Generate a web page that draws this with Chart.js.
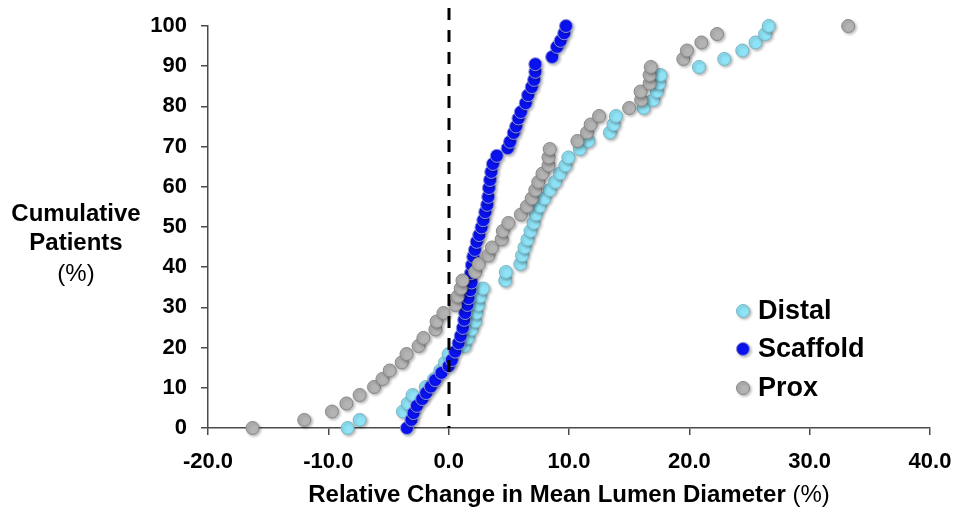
<!DOCTYPE html>
<html>
<head>
<meta charset="utf-8">
<script src="https://cdn.jsdelivr.net/npm/chart.js@4.4.1/dist/chart.umd.min.js"></script>
<style>
  html, body { margin: 0; padding: 0; background: #ffffff; }
  #wrap { width: 957px; height: 512px; }
</style>
</head>
<body>
<div id="wrap"><canvas id="chart" width="957" height="512"></canvas></div>
<script>
// Cumulative share of patients (%) for the Distal and Prox segments
const cumulativePct = [0, 2.0, 4.1, 6.1, 8.2, 10.2, 12.2, 14.3, 16.3, 18.4,
  20.4, 22.4, 24.5, 26.5, 28.6, 30.6, 32.7, 34.7, 36.7, 38.8,
  40.8, 42.9, 44.9, 46.9, 49.0, 51.0, 53.1, 55.1, 57.1, 59.2,
  61.2, 63.3, 65.3, 67.3, 69.4, 71.4, 73.5, 75.5, 77.6, 79.6,
  81.6, 83.7, 85.7, 87.8, 89.8, 91.8, 93.9, 95.9, 98.0, 100];

// Relative change in mean lumen diameter (%), distal segment
const distalChange = [-8.4, -7.4, -3.8, -3.4, -3.0, -1.9, -1.2, -0.7, -0.3, 0.0,
  1.3, 1.6, 1.9, 2.2, 2.3, 2.45, 2.6, 2.85, 4.7, 4.75,
  5.95, 6.1, 6.3, 6.55, 6.8, 7.05, 7.25, 7.55, 7.95, 8.4,
  8.85, 9.25, 9.7, 9.95, 10.9, 11.6, 13.4, 13.7, 13.9, 16.2,
  17.0, 17.3, 17.5, 17.6, 20.8, 22.9, 24.4, 25.5, 26.3, 26.6];

// Relative change in mean lumen diameter (%), proximal segment
const proxChange = [-16.3, -12.0, -9.7, -8.5, -7.4, -6.2, -5.5, -4.9, -3.9, -3.5,
  -2.5, -2.1, -1.1, -1.0, -0.43, 0.54, 0.75, 1.0, 1.15, 2.2,
  2.5, 3.3, 3.6, 4.4, 4.5, 4.96, 6.0, 6.5, 6.9, 7.2,
  7.45, 7.8, 8.3, 8.3, 8.4, 10.7, 11.5, 11.8, 12.5, 15.0,
  16.0, 15.95, 16.7, 16.7, 16.8, 19.5, 19.8, 21.0, 22.3, 33.2];

// Scaffold segment: cumulative share (%) and relative change (%)
const scaffoldPct = [0, 2.0, 3.7, 5.5, 7.2, 8.7, 10.3, 11.9, 13.7, 15.4,
  16.9, 19.0, 21.1, 22.9, 24.9, 26.9, 28.6, 30.6, 32.3, 34.3,
  36.2, 38.5, 40.5, 42.6, 44.3, 46.3, 48.0, 49.9, 51.7, 53.7,
  55.5, 57.5, 59.7, 61.7, 63.7, 65.7, 67.7, 69.6, 71.2, 73.4,
  75.0, 77.0, 78.6, 80.8, 82.8, 84.8, 86.6, 88.6, 90.5, 92.3,
  94.8, 96.3, 98.2, 100];
const scaffoldChange = [-3.47, -3.1, -2.92, -2.64, -2.2, -1.87, -1.48, -1.12, -0.6, 0.0,
  0.26, 0.54, 0.82, 1.0, 1.18, 1.29, 1.37, 1.56, 1.65, 1.8,
  1.9, 1.85, 1.93, 2.04, 2.18, 2.33, 2.54, 2.73, 2.88, 3.04,
  3.2, 3.29, 3.35, 3.44, 3.54, 3.68, 4.0, 4.9, 5.1, 5.4,
  5.6, 5.8, 6.0, 6.4, 6.6, 6.9, 7.1, 7.2, 7.2, 8.6,
  9.0, 9.3, 9.6, 9.75];

// Axis ticks
const xTickValues = [-20, -10, 0, 10, 20, 30, 40];
const xTickLabels = ['-20.0', '-10.0', '0.0', '10.0', '20.0', '30.0', '40.0'];
const yTickValues = [0, 10, 20, 30, 40, 50, 60, 70, 80, 90, 100];
const yTickLabels = ['0', '10', '20', '30', '40', '50', '60', '70', '80', '90', '100'];

const seriesNames = ['Distal', 'Scaffold', 'Prox'];
const xTitle = 'Relative Change in Mean Lumen Diameter';
const yTitleLines = ['Cumulative', 'Patients'];
const unitText = '(%)';

const FONT = "'Liberation Sans', Arial, sans-serif";
const AXIS_COLOR = '#4a4a4a';

function pairs(xs, ys) {
  return xs.map((x, i) => ({ x: x, y: ys[i] }));
}

// Soft drop shadow under the markers
const markerShadow = {
  id: 'markerShadow',
  beforeDatasetDraw(chart) {
    const ctx = chart.ctx;
    ctx.save();
    ctx.shadowColor = 'rgba(0,0,0,0.28)';
    ctx.shadowBlur = 3;
    ctx.shadowOffsetX = 1.5;
    ctx.shadowOffsetY = 1.5;
  },
  afterDatasetDraw(chart) {
    chart.ctx.restore();
  }
};

// Dashed reference line at zero change
const zeroLine = {
  id: 'zeroLine',
  afterDatasetsDraw(chart) {
    const ctx = chart.ctx;
    const x = Math.round(chart.scales.x.getPixelForValue(0));
    const bottom = chart.chartArea.bottom;
    ctx.save();
    ctx.strokeStyle = '#000000';
    ctx.lineWidth = 3;
    ctx.setLineDash([12, 10]);
    ctx.beginPath();
    ctx.moveTo(x, 8);
    ctx.lineTo(x, bottom);
    ctx.stroke();
    ctx.restore();
  }
};

// Axis titles (bold words followed by a regular-weight unit) and the legend
const annotations = {
  id: 'annotations',
  afterDraw(chart) {
    const ctx = chart.ctx;
    const area = chart.chartArea;
    ctx.save();
    ctx.fillStyle = '#000000';
    ctx.textBaseline = 'middle';

    // x-axis title centred on the plot area
    const boldX = 'bold 24px ' + FONT;
    const normX = '24px ' + FONT;
    ctx.font = boldX;
    const w1 = ctx.measureText(xTitle + ' ').width;
    ctx.font = normX;
    const w2 = ctx.measureText(unitText).width;
    const sx = (area.left + area.right) / 2 - (w1 + w2) / 2;
    const ty = 495;
    ctx.textAlign = 'left';
    ctx.font = boldX;
    ctx.fillText(xTitle + ' ', sx, ty);
    ctx.font = normX;
    ctx.fillText(unitText, sx + w1, ty);

    // y-axis title, horizontal, three lines
    ctx.textAlign = 'center';
    const cx = 76;
    ctx.font = 'bold 24px ' + FONT;
    ctx.fillText(yTitleLines[0], cx, 214);
    ctx.fillText(yTitleLines[1], cx, 243);
    ctx.font = '24px ' + FONT;
    ctx.fillText(unitText, cx, 274);

    // legend
    const rows = [311, 349, 388];
    chart.data.datasets.forEach((ds, i) => {
      const y = rows[i];
      ctx.save();
      ctx.shadowColor = 'rgba(0,0,0,0.28)';
      ctx.shadowBlur = 3;
      ctx.shadowOffsetX = 1.5;
      ctx.shadowOffsetY = 1.5;
      ctx.beginPath();
      ctx.arc(743, y, 6.5, 0, Math.PI * 2);
      ctx.fillStyle = ds.backgroundColor;
      ctx.fill();
      ctx.lineWidth = 1;
      ctx.strokeStyle = ds.borderColor;
      ctx.stroke();
      ctx.restore();
      ctx.fillStyle = '#000000';
      ctx.textAlign = 'left';
      ctx.font = 'bold 27px ' + FONT;
      ctx.fillText(ds.label, 758, y + 1);
    });
    ctx.restore();
  }
};

const pointStyle = { pointRadius: 6.5, pointHoverRadius: 6.5, borderWidth: 1, showLine: false, clip: false };

new Chart(document.getElementById('chart'), {
  type: 'scatter',
  data: {
    datasets: [
      Object.assign({
        label: seriesNames[0],
        data: pairs(distalChange, cumulativePct),
        backgroundColor: '#8fe3f6',
        borderColor: '#78b7c8',
        order: 3
      }, pointStyle),
      Object.assign({
        label: seriesNames[1],
        data: pairs(scaffoldChange, scaffoldPct),
        backgroundColor: '#0a12f2',
        borderColor: '#8a93dc',
        order: 2
      }, pointStyle),
      Object.assign({
        label: seriesNames[2],
        data: pairs(proxChange, cumulativePct),
        backgroundColor: '#b4b4b4',
        borderColor: '#888888',
        order: 1
      }, pointStyle)
    ]
  },
  options: {
    responsive: false,
    animation: false,
    devicePixelRatio: 1,
    layout: { padding: { top: 26, right: 27, left: 0, bottom: 0 } },
    plugins: {
      legend: { display: false },
      tooltip: { enabled: false }
    },
    scales: {
      x: {
        type: 'linear',
        min: -20,
        max: 40,
        afterBuildTicks(scale) { scale.ticks = xTickValues.map(v => ({ value: v })); },
        afterFit(scale) { scale.height = 84; scale.paddingLeft = 0; scale.paddingRight = 0; },
        ticks: {
          autoSkip: false,
          maxRotation: 0,
          padding: 14,
          color: '#000000',
          font: { family: FONT, size: 22, weight: 'bold' },
          callback: (v) => { const i = xTickValues.indexOf(v); return i >= 0 ? xTickLabels[i] : ''; }
        },
        grid: { drawOnChartArea: false, drawTicks: true, tickLength: 7, color: AXIS_COLOR, lineWidth: 1.5 },
        border: { display: true, color: AXIS_COLOR, width: 1.5 }
      },
      y: {
        type: 'linear',
        min: 0,
        max: 100,
        afterBuildTicks(scale) { scale.ticks = yTickValues.map(v => ({ value: v })); },
        afterFit(scale) { scale.width = 208; scale.paddingTop = 0; scale.paddingBottom = 0; },
        ticks: {
          autoSkip: false,
          padding: 14,
          color: '#000000',
          font: { family: FONT, size: 22, weight: 'bold' },
          callback: (v) => { const i = yTickValues.indexOf(v); return i >= 0 ? yTickLabels[i] : ''; }
        },
        grid: { drawOnChartArea: false, drawTicks: true, tickLength: 7, color: AXIS_COLOR, lineWidth: 1.5 },
        border: { display: true, color: AXIS_COLOR, width: 1.5 }
      }
    }
  },
  plugins: [markerShadow, zeroLine, annotations]
});
</script>
</body>
</html>
